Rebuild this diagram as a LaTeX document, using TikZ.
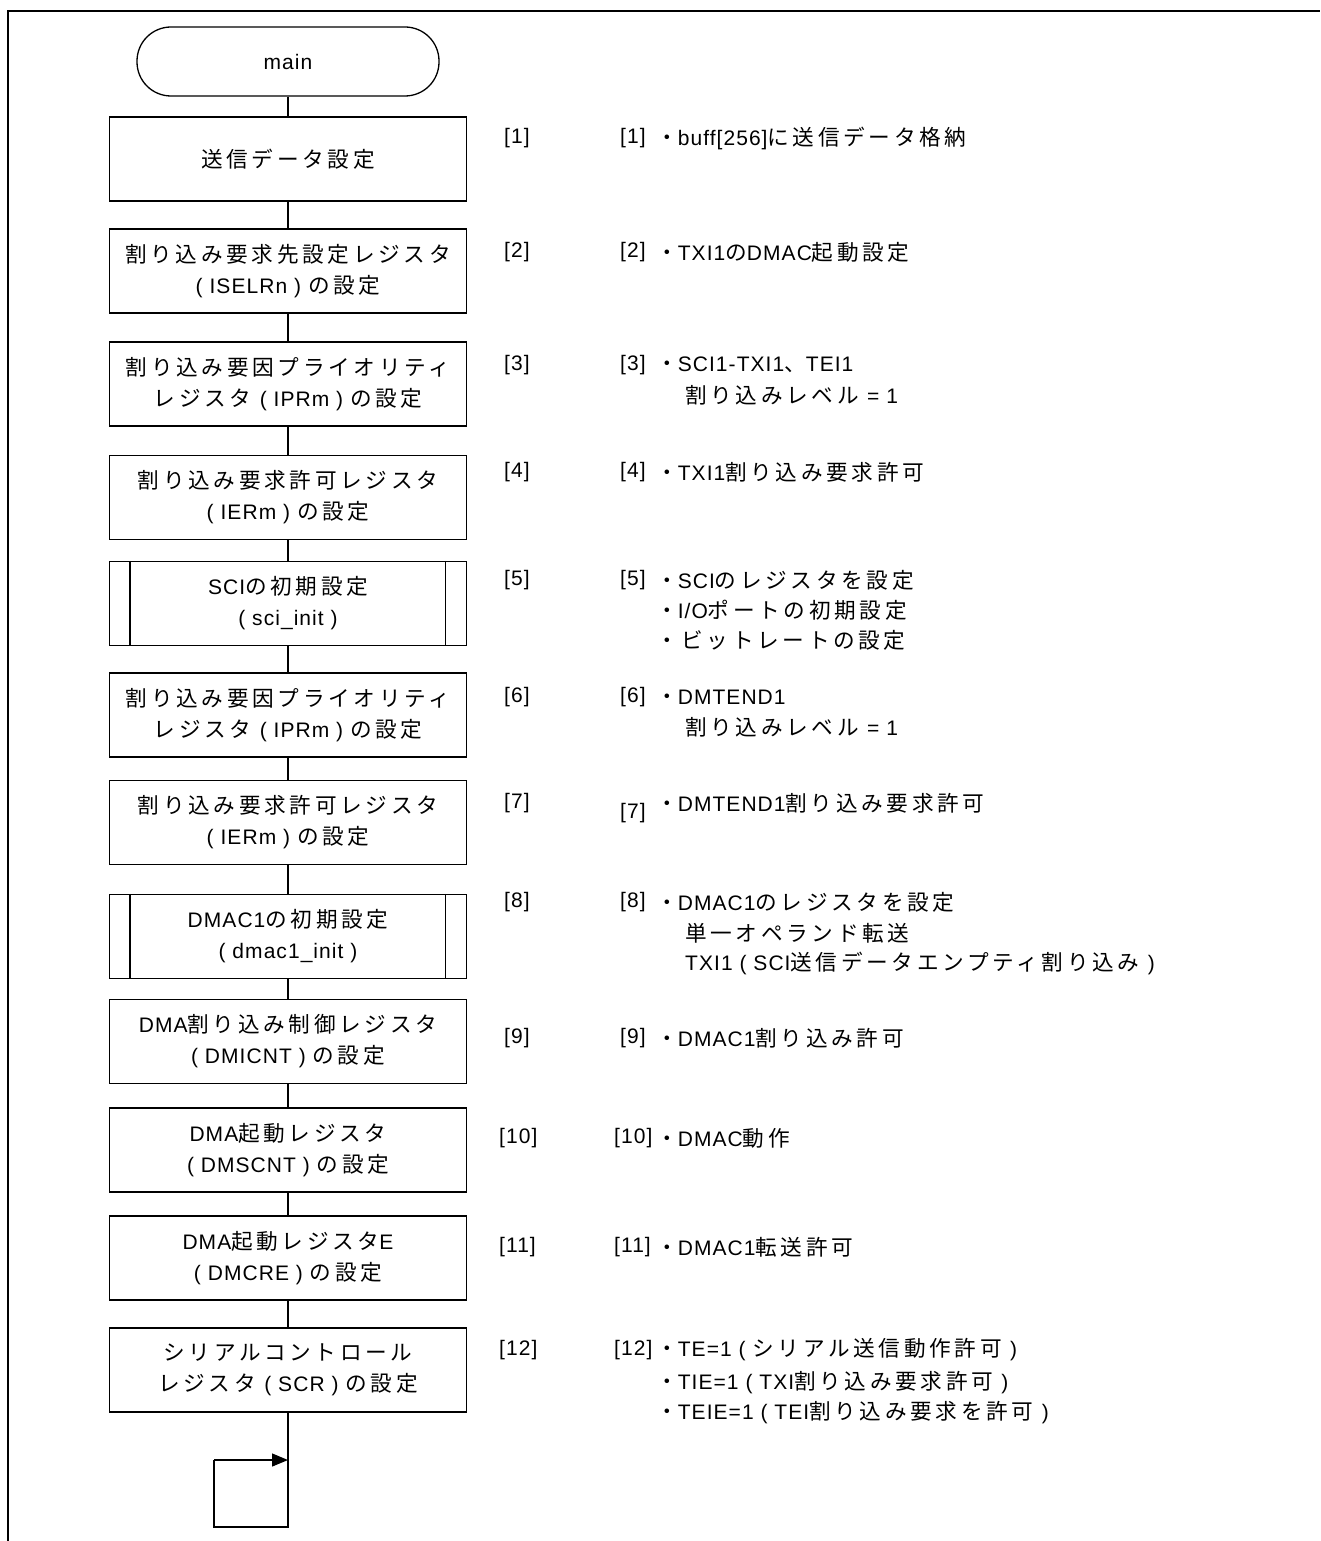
\documentclass[tikz,border=0pt]{standalone}
\usepackage{fontspec}
\setmainfont{Liberation Sans}[LetterSpace=5]
\newfontfamily\jpfont[Scale=1.03, LetterSpace=17]{Noto Sans CJK JP}
\usetikzlibrary{arrows.meta}
\XeTeXinterchartokenstate=1
\newXeTeXintercharclass\jpcls
\newcount\jpc
\def\setjprange#1#2{\jpc=#1\relax\loop\XeTeXcharclass\jpc=\jpcls\relax\ifnum\jpc<#2\relax\advance\jpc by 1\relax\repeat}
\setjprange{"3000}{"30FF}
\setjprange{"4E00}{"9FFF}
\setjprange{"FF00}{"FFEF}
\XeTeXinterchartoks 0 \jpcls = {\jpfont}
\XeTeXinterchartoks 4095 \jpcls = {\jpfont}
\XeTeXinterchartoks \jpcls 0 = {\rmfamily}
\XeTeXinterchartoks 4095 0 = {\rmfamily}
\tikzset{
  box/.style={draw, line width=1.3pt, minimum width=357pt, minimum height=84pt,
    align=center, inner sep=0pt, font=\fontsize{21}{31}\selectfont},
  term/.style={draw, line width=1.3pt, rounded corners=34pt, minimum width=302pt,
    minimum height=69pt, inner sep=0pt, font=\fontsize{21}{24}\selectfont},
  lbl/.style={anchor=west, inner sep=0pt, font=\fontsize{21}{24}\selectfont},
  conn/.style={line width=1.3pt},
  frame/.style={line width=2pt},
}
\begin{document}
\begin{tikzpicture}[x=1pt, y=-1pt]
\useasboundingbox (0,0) rectangle (1320,1541);
% frame
\draw[frame] (8,1541) -- (8,11) -- (1320,11);
% flow nodes
\node[term] (term) at (288,61.5) {main};
\node[box] (b1) at (288,159) {送信データ設定};
\node[box] (b2) at (288,271) {割り込み要求先設定レジスタ\\( ISELRn ) の設定};
\node[box] (b3) at (288,384) {割り込み要因プライオリティ\\レジスタ ( IPRm ) の設定};
\node[box] (b4) at (288,497.5) {割り込み要求許可レジスタ\\( IERm ) の設定};
\node[box] (b5) at (288,603.5) {SCIの初期設定\\( sci\_init )};
\node[box] (b6) at (288,715) {割り込み要因プライオリティ\\レジスタ ( IPRm ) の設定};
\node[box] (b7) at (288,822.5) {割り込み要求許可レジスタ\\( IERm ) の設定};
\node[box] (b8) at (288,936.5) {DMAC1の初期設定\\( dmac1\_init )};
\node[box] (b9) at (288,1041.5) {DMA割り込み制御レジスタ\\( DMICNT ) の設定};
\node[box] (b10) at (288,1150) {DMA起動レジスタ\\( DMSCNT ) の設定};
\node[box] (b11) at (288,1258) {DMA起動レジスタE\\( DMCRE ) の設定};
\node[box] (b12) at (288,1370) {シリアルコントロール\\レジスタ ( SCR ) の設定};
% predefined-process side bars
\foreach \b in {b5,b8}{
  \draw[conn] ([xshift=21pt]\b.north west) -- ([xshift=21pt]\b.south west);
  \draw[conn] ([xshift=-22pt]\b.north east) -- ([xshift=-22pt]\b.south east);
}
% connectors
\draw[conn] (term) -- (b1);
\draw[conn] (b1) -- (b2);
\draw[conn] (b2) -- (b3);
\draw[conn] (b3) -- (b4);
\draw[conn] (b4) -- (b5);
\draw[conn] (b5) -- (b6);
\draw[conn] (b6) -- (b7);
\draw[conn] (b7) -- (b8);
\draw[conn] (b8) -- (b9);
\draw[conn] (b9) -- (b10);
\draw[conn] (b10) -- (b11);
\draw[conn] (b11) -- (b12);
% endless loop
\coordinate (lb) at (288,1527);
\coordinate (lbl) at (214,1527);
\coordinate (ltl) at (214,1460);
\coordinate (la) at (288,1460);
\draw[conn] (b12) -- (lb) -- (lbl) -- (ltl);
\draw[conn, -{Triangle[length=16pt, width=13pt]}] (ltl) -- (la);
% step labels (column 1)
\node[lbl] (a1) at (504,138) {[1]};
\node[lbl] (a2) at (504,252) {[2]};
\node[lbl] (a3) at (504,365) {[3]};
\node[lbl] (a4) at (504,472) {[4]};
\node[lbl] (a5) at (504,580) {[5]};
\node[lbl] (a6) at (504,697) {[6]};
\node[lbl] (a7) at (504,803) {[7]};
\node[lbl] (a8) at (504,902) {[8]};
\node[lbl] (a9) at (504,1038) {[9]};
\node[lbl] (a10) at (499,1138) {[10]};
\node[lbl] (a11) at (499,1247) {[11]};
\node[lbl] (a12) at (499,1350) {[12]};
% step labels (column 2)
\node[lbl] (c1) at (620,138) {[1]};
\node[lbl] (c2) at (620,252) {[2]};
\node[lbl] (c3) at (620,365) {[3]};
\node[lbl] (c4) at (620,472) {[4]};
\node[lbl] (c5) at (620,580) {[5]};
\node[lbl] (c6) at (620,697) {[6]};
\node[lbl] (c7) at (620,813) {[7]};
\node[lbl] (c8) at (620,902) {[8]};
\node[lbl] (c9) at (620,1038) {[9]};
\node[lbl] (c10) at (614,1138) {[10]};
\node[lbl] (c11) at (614,1247) {[11]};
\node[lbl] (c12) at (614,1350) {[12]};
% descriptions
\node[lbl] (d1) at (656,138) {・buff[256]に送信データ格納};
\node[lbl] (d2) at (656,252) {・TXI1のDMAC起動設定};
\node[lbl] (d3) at (656,365) {・SCI1-TXI1、TEI1};
\node[lbl] (d3b) at (685,395) {割り込みレベル = 1};
\node[lbl] (d4) at (656,472) {・TXI1割り込み要求許可};
\node[lbl] (d5) at (656,580) {・SCIのレジスタを設定};
\node[lbl] (d5b) at (656,610) {・I/Oポートの初期設定};
\node[lbl] (d5c) at (656,640) {・ビットレートの設定};
\node[lbl] (d6) at (656,697) {・DMTEND1};
\node[lbl] (d6b) at (685,727) {割り込みレベル = 1};
\node[lbl] (d7) at (656,803) {・DMTEND1割り込み要求許可};
\node[lbl] (d8) at (656,902) {・DMAC1のレジスタを設定};
\node[lbl] (d8b) at (685,933) {単一オペランド転送};
\node[lbl] (d8c) at (685,963) {TXI1 ( SCI送信データエンプティ割り込み )};
\node[lbl] (d9) at (656,1038) {・DMAC1割り込み許可};
\node[lbl] (d10) at (656,1138) {・DMAC動作};
\node[lbl] (d11) at (656,1247) {・DMAC1転送許可};
\node[lbl] (d12) at (656,1350) {・TE=1 ( シリアル送信動作許可 )};
\node[lbl] (d12b) at (656,1383) {・TIE=1 ( TXI割り込み要求許可 )};
\node[lbl] (d12c) at (656,1413) {・TEIE=1 ( TEI割り込み要求を許可 )};
\end{tikzpicture}
\end{document}
